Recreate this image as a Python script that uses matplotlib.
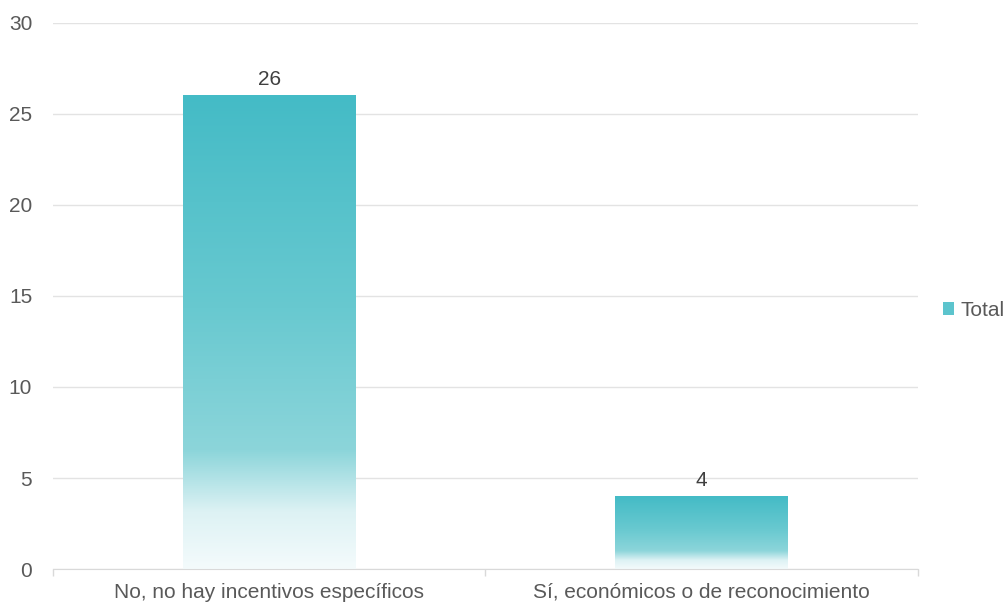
import numpy as np
import matplotlib.pyplot as plt
from matplotlib.colors import LinearSegmentedColormap
from matplotlib.patches import Patch

categories = ["No, no hay incentivos específicos", "Sí, económicos o de reconocimiento"]
values = [26, 4]
series_name = "Total"

plt.rcParams['font.family'] = ['Liberation Sans', 'DejaVu Sans']

# vertical fill: teal at the top fading to almost white at the base
grad = LinearSegmentedColormap.from_list(
    "fade",
    [(0.0, "#F4FBFC"), (0.12, "#DDF2F4"), (0.25, "#8CD5DA"),
     (0.55, "#68C9D0"), (1.0, "#44BBC6")])

fig = plt.figure(figsize=(10.06, 6.05), dpi=100)
ax = fig.add_axes([0.0527, 0.0595, 0.8598, 0.9025])

bar_w = 0.4
x = np.arange(len(categories))
col = np.linspace(0, 1, 256).reshape(-1, 1)
for xi, v in zip(x, values):
    ax.imshow(col, cmap=grad, origin="lower", aspect="auto",
              extent=[xi - bar_w / 2, xi + bar_w / 2, 0, v], zorder=2)
    ax.text(xi, v + 0.35, str(v), ha="center", va="bottom",
            fontsize=15, color="#404040")

ax.set_xlim(-0.5, len(categories) - 0.5)
ax.set_ylim(0, 30)
ax.set_yticks(range(0, 31, 5))
ax.set_xticks(x)
ax.set_xticklabels(categories)
ax.set_xticks([-0.5, 0.5, 1.5], minor=True)
ax.tick_params(axis="x", which="major", length=0, pad=10, labelsize=15, labelcolor="#595959")
ax.tick_params(axis="x", which="minor", length=5, color="#d9d9d9", width=1)
ax.tick_params(axis="y", length=0, pad=15, labelsize=15, labelcolor="#595959")

ax.grid(axis="y", color="#e3e3e3", linewidth=1, zorder=0)
ax.set_axisbelow(True)
for s in ["top", "right", "left"]:
    ax.spines[s].set_visible(False)
ax.spines["bottom"].set_color("#d9d9d9")

handle = Patch(facecolor="#5CC4CD", edgecolor="none")
fig.legend([handle], [series_name], loc="center left",
           bbox_to_anchor=(0.9374, 0.487), frameon=False, fontsize=15,
           borderpad=0, borderaxespad=0,
           handlelength=0.55, handleheight=0.55, handletextpad=0.3,
           labelcolor="#595959")

fig.savefig("out.png", dpi=100)
